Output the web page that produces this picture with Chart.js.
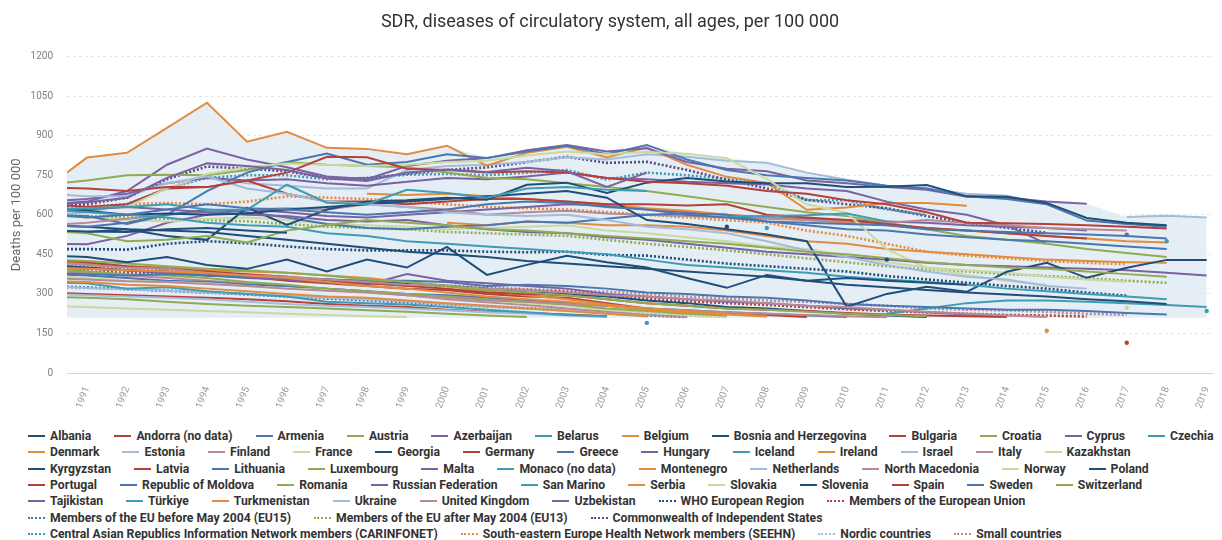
<!DOCTYPE html>
<html>
<head>
<meta charset="utf-8">
<script src="https://cdn.jsdelivr.net/npm/chart.js@4.4.1/dist/chart.umd.min.js"></script>
<style>
  body { margin: 0; background: #fff; }
  #wrap { position: relative; width: 1222px; height: 540px; overflow: hidden; }
  #box { position: absolute; left: 0; top: 0; width: 1222px; height: 425px; }
  #legend { position: absolute; left: 28px; top: 428px; width: 1194px;
            font: bold 12.2px Roboto, sans-serif; color: #333; }
  .row { display: flex; height: 16.3px; align-items: center; white-space: nowrap; }
  .item { display: flex; align-items: center; margin-right: 23px; }
  .sw { width: 17px; height: 0; border-top: 2px solid; margin-right: 5px; }
  .sw.dot { border-top-style: dotted; }
</style>
</head>
<body>
<div id="wrap">
  <div id="box"><canvas id="chart"></canvas></div>
  <div id="legend"></div>
</div>
<script>
// years on the x axis
const years = [1990, 1991, 1992, 1993, 1994, 1995, 1996, 1997, 1998, 1999,
  2000, 2001, 2002, 2003, 2004, 2005, 2006, 2007, 2008, 2009,
  2010, 2011, 2012, 2013, 2014, 2015, 2016, 2017, 2018, 2019];
const yTicks = [0, 150, 300, 450, 600, 750, 900, 1050, 1200];
const bandFloor = 210;

// SDR per 100 000 (null = no data)
const albania = [445, 440, 420, 440, 410, 395, 430, 385, 430, 400, 478, 372, 410, 445, 420, 400, 360, 323, 372, 350, 360, 350, 342, 335, null, null, null, null, null, null];
const andorra = [null, null, null, null, null, null, null, null, null, null, null, null, null, null, null, null, null, null, null, null, null, null, null, null, null, null, null, null, null, null];
const armenia = [600, 590, 600, 620, 640, 625, 620, 610, 600, 610, 620, 640, 650, 645, 630, 620, 600, 590, 575, 570, 565, 560, 545, 540, 535, 530, 525, 520, 510, null];
const austria = [430, 425, 415, 405, 395, 390, 380, 370, 355, 345, 330, 315, 305, 295, 280, 265, 255, 245, 240, 232, 225, 220, 215, null, null, null, null, null, null, null];
const azerbaijan = [635, 648, 665, 740, 795, 785, 770, 738, 728, 760, 772, 762, 778, 765, 706, 760, null, null, null, null, null, null, null, null, null, null, null, null, null, null];
const belarus = [620, 625, 630, 640, 620, 619, 714, 646, 640, 695, 683, 665, 700, 705, 695, 690, null, 593, 595, 598, 605, 575, null, null, null, null, null, null, 500, null];
const belgium = [350, 345, 335, 330, 320, 310, 300, 290, 285, 275, 265, 255, 245, 235, 225, 215, null, null, null, null, null, null, null, null, null, 160, null, null, null, null];
const bosnia = [540, 537, 535, 545, 550, 540, 532, null, null, null, null, null, null, null, null, null, null, 555, null, null, null, 430, null, null, null, null, null, null, null, null];
const bulgaria = [703, 700, 690, 705, 705, 730, 760, 820, 818, 775, 770, 760, 765, 760, 740, 725, 720, 710, 690, 680, 655, 640, 610, 570, 568, 565, 560, 555, 548, null];
const croatia = [540, 530, 500, 505, 520, 495, 540, 560, 580, 570, 560, 545, 540, 530, 520, 510, 500, 490, 475, 460, 450, 435, 420, 410, 400, 395, 385, 375, 365, null];
const cyprus = [null, null, null, null, null, null, null, null, null, null, null, null, null, null, null, null, null, null, null, null, null, null, null, null, null, null, null, 525, null, null];
const czechia = [620, 610, 600, 590, 570, 560, 555, 530, 520, 500, 490, 480, 470, 460, 450, 430, 410, 400, 390, 380, 365, 355, 345, 335, 320, 310, 300, 290, 280, null];
const denmark = [400, 395, 390, 385, 378, 370, 360, 345, 330, 320, 305, 290, 280, 270, 255, 240, 230, 222, 214, null, null, null, null, null, null, null, null, null, null, null];
const estonia = [680, 670, 670, 720, 745, 700, 680, 650, 640, 630, 610, 600, 595, 600, 580, 555, 545, 530, 500, 465, 440, 410, 385, 365, 355, 330, 320, null, null, null];
const finland = [420, 410, 400, 395, 380, 370, 365, 355, 345, 335, 330, 320, 315, 305, 295, 290, 280, 275, 265, 255, 250, 240, 232, 225, 218, 212, null, null, null, null];
const france = [255, 250, 245, 240, 235, 230, 225, 220, 215, 212, null, null, null, null, null, null, null, null, null, null, null, null, null, null, null, null, null, null, null, null];
const georgia = [620, 615, 600, 605, 600, 605, 620, 630, 640, 650, 660, 670, 680, 690, 665, 580, 565, 545, 525, 500, 251, 300, 327, 308, 384, 418, 361, 399, 429, 429];
const germany = [430, 420, 405, 395, 385, 375, 365, 350, 340, 330, 320, 305, 300, 295, 280, 265, 255, 245, 240, 235, 228, 222, 218, 215, 212, null, null, null, null, null];
const greece = [380, 375, 370, 375, 370, 365, 360, 355, 350, 350, 345, 330, 335, 330, 320, 305, 300, 290, 285, 275, 262, 255, 250, 245, 240, 240, 235, 228, 222, null];
const hungary = [615, 620, 630, 620, 610, 600, 595, 580, 575, 580, 560, 545, 535, 530, 515, 505, 490, 475, 460, 450, 440, 430, 418, 410, 405, 400, 395, 390, 380, 370];
const iceland = [345, 340, 320, 325, 310, 300, 290, 270, 265, 260, 250, 240, 230, 220, 215, null, null, null, null, null, null, null, null, null, null, null, null, null, null, null];
const ireland = [420, 415, 405, 400, 390, 385, 380, 370, 360, 345, 330, 310, 295, 280, 260, 245, 235, 225, 215, null, null, null, null, null, null, null, null, null, null, null];
const israel = [300, 295, 290, 285, 280, 270, 262, 255, 250, 245, 238, 230, 225, 218, 212, null, null, null, null, null, null, null, null, null, null, null, null, null, null, null];
const italy = [360, 355, 348, 345, 338, 330, 320, 312, 305, 295, 285, 275, 270, 262, 255, 245, 238, 230, 225, 220, 215, 211, null, null, null, null, null, null, null, null];
const kazakhstan = [610, 625, 630, 700, 755, 780, 795, 790, 785, 790, 800, 805, 825, 840, 830, 838, 832, 815, 735, 640, 607, 470, 398, 372, 350, 335, null, 247, null, null];
const kyrgyzstan = [540, 535, 545, 520, 505, 627, 562, 620, 650, 655, 665, 657, 714, 722, 683, 722, 740, 726, 720, 720, 705, 706, 713, 670, 668, 645, 588, 570, 560, null];
const latvia = [640, 630, 640, 700, 705, 730, 680, 650, 650, 640, 650, 660, 660, 650, 640, 640, 635, 640, 600, 590, 580, 565, 550, 540, 530, 520, 510, null, null, null];
const lithuania = [560, 555, 570, 600, 620, 610, 590, 565, 550, 545, 555, 560, 575, 570, 585, 600, 605, 600, 575, 560, 545, 540, 525, 515, 505, 500, 490, 480, 470, null];
const luxembourg = [395, 385, 375, 370, 360, 345, 335, 320, 310, 300, 290, 280, 270, 260, 245, 235, 225, 218, null, null, null, null, null, null, null, null, null, null, null, null];
const malta = [400, 395, 390, 380, 370, 360, 355, 345, 335, 375, 350, 340, 330, 320, 300, 290, 280, 270, 265, 255, 245, 240, 230, 222, 215, null, null, null, null, null];
const monaco = [null, null, null, null, null, null, null, null, null, null, null, null, null, null, null, null, null, null, null, null, null, null, null, null, null, null, null, null, null, null];
const montenegro = [null, null, null, null, null, null, null, null, null, null, 570, 560, 575, 570, 560, 560, 555, 540, 520, 500, 490, 470, 460, 450, 440, 430, 425, 420, 418, null];
const netherlands = [330, 322, 318, 312, 305, 300, 292, 285, 280, 272, 262, 252, 245, 238, 225, 215, null, null, null, null, null, null, null, null, null, null, null, null, null, null];
const northMacedonia = [560, 570, 585, 600, 610, 620, 625, 620, 640, 630, 620, 600, 610, 615, 605, 600, 595, 590, 585, 580, 575, 570, 580, 570, 560, 550, 545, 540, null, null];
const norway = [370, 360, 350, 345, 340, 330, 320, 315, 305, 295, 285, 275, 265, 255, 240, 230, 220, 212, null, null, null, null, null, null, null, null, null, null, null, null];
const poland = [560, 555, 545, 540, 535, 520, 505, 490, 475, 460, 450, 440, 425, 415, 405, 395, 385, 375, 365, 350, 335, 325, 315, 305, 298, 290, 280, 272, 262, null];
const portugal = [400, 395, 390, 385, 370, 365, 350, 340, 330, 320, 315, 300, 290, 285, 265, 245, 235, 225, 220, 212, null, null, null, null, null, null, null, null, null, null];
const moldova = [600, 595, 565, 600, 690, 760, 800, 832, 790, 800, 830, 815, 840, 862, 830, 865, 810, 770, 750, 740, 730, 710, 700, 670, 660, 640, 578, 565, 555, null];
const romania = [715, 730, 750, 752, 750, 770, 800, 790, 785, 780, 760, 740, 735, 720, 705, 690, 670, 650, 630, 610, 595, 570, 545, 520, 505, 490, 470, 455, 440, null];
const russia = [640, 650, 690, 790, 851, 810, 780, 745, 735, 785, 805, 815, 845, 865, 840, 852, 800, 775, 765, 730, 720, 705, 695, 668, 665, 650, 642, null, null, null];
const sanMarino = [null, null, null, null, null, null, null, null, null, null, null, null, null, null, null, 190, null, null, null, null, null, null, null, null, null, null, null, null, null, 235];
const serbia = [null, null, null, null, null, null, null, null, 680, 675, 680, 670, 660, 650, 640, 625, 615, 600, 590, 580, 570, 560, 550, 540, 530, 520, 510, 500, 495, null];
const slovakia = [600, 590, 580, 575, 585, 590, 580, 565, 560, 555, 545, 550, 555, 560, 540, 530, 515, 500, 480, 470, 445, 420, 400, 390, 380, 365, 355, 345, null, null];
const slovenia = [410, 400, 390, 380, 375, 370, 360, 355, 345, 340, 330, 320, 305, 300, 290, 275, 265, 250, 245, 235, 225, 218, 212, null, null, null, null, null, null, null];
const spain = [305, 300, 295, 290, 285, 280, 272, 262, 255, 250, 240, 232, 228, 222, 215, null, null, null, null, null, null, null, null, null, null, null, null, 115, null, null];
const sweden = [375, 370, 360, 350, 345, 335, 330, 320, 310, 300, 295, 285, 275, 265, 255, 245, 238, 230, 225, 218, 212, null, null, null, null, null, null, null, null, null];
const switzerland = [290, 285, 280, 270, 262, 255, 250, 245, 238, 232, 225, 218, 212, null, null, null, null, null, null, null, null, null, null, null, null, null, null, null, null, null];
const tajikistan = [650, 660, 680, 720, 740, 730, 735, 720, 710, 725, 740, 735, 745, 760, 740, 735, 725, 720, 715, 700, 690, 650, 620, 600, 560, 490, null, null, null, null];
const turkiye = [null, null, null, null, null, null, null, null, null, null, null, null, null, null, null, null, null, null, 550, null, null, 225, 245, 265, 275, 275, 270, 265, 258, 250];
const turkmenistan = [703, 817, 835, 930, 1025, 877, 915, 854, 850, 830, 862, 786, 835, 858, 817, 855, 790, 744, 721, 619, 628, 645, 645, 634, null, null, null, null, null, null];
const ukraine = [600, 610, 640, 700, 745, 720, 710, 700, 700, 770, 785, 790, 800, 818, 810, 830, 820, 805, 797, 760, 733, 710, 700, 680, 672, 640, null, 592, 596, 590];
const unitedKingdom = [390, 380, 370, 360, 350, 340, 330, 320, 310, 295, 280, 268, 258, 245, 232, 220, 212, null, null, null, null, null, null, null, null, null, null, null, null, null];
const uzbekistan = [490, 488, 520, 570, 600, 620, 610, 595, 590, 600, 610, 620, 630, 640, 635, 620, 610, 600, 590, 585, 580, 575, 570, 560, 555, 550, 540, null, null, null];

// country groups (drawn dotted)
const whoEurope = [470, 470, 468, 490, 500, 492, 480, 470, 465, 465, 465, 460, 458, 460, 448, 445, 430, 415, 405, 395, 385, 368, 355, 342, 330, 320, 305, 293, null, null];
const eu = [390, 385, 380, 378, 372, 365, 360, 350, 343, 337, 330, 320, 315, 308, 295, 282, 272, 265, 258, 250, 242, 235, 230, 225, 220, 218, 214, null, null, null];
const eu15 = [330, 325, 318, 312, 305, 298, 290, 282, 275, 268, 260, 252, 245, 238, 228, 218, 212, null, null, null, null, null, null, null, null, null, null, null, null, null];
const eu13 = [600, 595, 590, 585, 580, 575, 565, 555, 550, 545, 535, 530, 525, 520, 505, 490, 478, 465, 450, 435, 420, 405, 392, 385, 375, 368, 360, 350, 342, null];
const cis = [630, 640, 665, 735, 783, 775, 765, 740, 738, 756, 770, 780, 800, 820, 797, 801, 770, 733, 700, 657, 640, 625, 595, 570, 550, 532, null, null, null, null];
const carinfonet = [615, 625, 640, 700, 740, 750, 750, 735, 740, 752, 755, 750, 760, 770, 733, 760, 750, 735, 720, 655, 655, 620, 600, null, null, null, null, null, null, null];
const seehn = [630, 632, 640, 645, 640, 650, 670, 665, 660, 650, 640, 630, 625, 620, 610, 600, 590, 580, 570, 540, 520, 490, 460, 445, 435, 425, 418, 412, null, null];
const nordic = [325, 322, 318, 312, 305, 300, 292, 285, 278, 270, 262, 255, 248, 240, 232, 225, 218, 212, null, null, null, null, null, null, null, null, null, null, null, null];
const smallCountries = [410, 405, 395, 390, 380, 372, 365, 355, 348, 340, 332, 325, 318, 312, 308, 300, 290, 283, 275, 270, 262, 255, 245, 240, 238, 232, 225, 220, null, null];

const names = ["Albania", "Andorra (no data)", "Armenia", "Austria", "Azerbaijan", "Belarus", "Belgium",
  "Bosnia and Herzegovina", "Bulgaria", "Croatia", "Cyprus", "Czechia", "Denmark", "Estonia", "Finland",
  "France", "Georgia", "Germany", "Greece", "Hungary", "Iceland", "Ireland", "Israel", "Italy", "Kazakhstan",
  "Kyrgyzstan", "Latvia", "Lithuania", "Luxembourg", "Malta", "Monaco (no data)", "Montenegro", "Netherlands",
  "North Macedonia", "Norway", "Poland", "Portugal", "Republic of Moldova", "Romania", "Russian Federation",
  "San Marino", "Serbia", "Slovakia", "Slovenia", "Spain", "Sweden", "Switzerland", "Tajikistan", "Türkiye",
  "Turkmenistan", "Ukraine", "United Kingdom", "Uzbekistan",
  "WHO European Region", "Members of the European Union", "Members of the EU before May 2004 (EU15)",
  "Members of the EU after May 2004 (EU13)", "Commonwealth of Independent States",
  "Central Asian Republics Information Network members (CARINFONET)",
  "South-eastern Europe Health Network members (SEEHN)", "Nordic countries", "Small countries"];
const values = [albania, andorra, armenia, austria, azerbaijan, belarus, belgium, bosnia, bulgaria, croatia,
  cyprus, czechia, denmark, estonia, finland, france, georgia, germany, greece, hungary, iceland, ireland,
  israel, italy, kazakhstan, kyrgyzstan, latvia, lithuania, luxembourg, malta, monaco, montenegro, netherlands,
  northMacedonia, norway, poland, portugal, moldova, romania, russia, sanMarino, serbia, slovakia, slovenia,
  spain, sweden, switzerland, tajikistan, turkiye, turkmenistan, ukraine, unitedKingdom, uzbekistan,
  whoEurope, eu, eu15, eu13, cis, carinfonet, seehn, nordic, smallCountries];
const firstGroup = 53; // index of "WHO European Region", groups are dotted

const C = {
  navy: "#1f4e79", red: "#b5403a", blue: "#4b77b0", green: "#8fac52", purple: "#7b62a3",
  teal: "#3e9cb4", orange: "#e38b3e", lblue: "#a3bcd9", mauve: "#b68a96", lgreen: "#c9d99f"
};
const colours = [C.navy, C.red, C.blue, C.green, C.purple, C.teal, C.orange, C.navy, C.red, C.green,
  C.purple, C.teal, C.orange, C.lblue, C.mauve, C.lgreen, C.navy, C.red, C.blue, C.purple, C.teal, C.orange,
  C.lblue, C.mauve, C.lgreen, C.navy, C.red, C.blue, C.green, C.purple, C.teal, C.orange, C.lblue,
  C.mauve, C.lgreen, C.navy, C.red, C.blue, C.green, C.purple, C.teal, C.orange, C.lgreen, C.navy,
  C.red, C.blue, C.green, C.purple, C.teal, C.orange, C.lblue, C.mauve, C.purple,
  C.navy, C.red, C.blue, C.green, "#5a4a86", C.teal, C.orange, C.lblue, C.mauve];

// rows of the legend start at these entries
const legendRowStarts = ["Denmark", "Kyrgyzstan", "Portugal", "Tajikistan",
  "Members of the EU before May 2004 (EU15)",
  "Central Asian Republics Information Network members (CARINFONET)"];

// a dot only where a value stands alone
function loneDot(ctx) {
  const d = ctx.dataset.data, i = ctx.dataIndex;
  return d[i] != null && d[i - 1] == null && d[i + 1] == null ? 2.2 : 0;
}

const datasets = names.map((name, k) => ({
  label: name,
  data: values[k],
  borderColor: colours[k],
  backgroundColor: colours[k],
  borderWidth: k >= firstGroup ? 2.6 : 2,
  borderDash: k >= firstGroup ? [2, 2] : [],
  pointRadius: loneDot,
  pointBorderWidth: 0,
  pointHoverRadius: 0,
  tension: 0,
  fill: false
}));

// shaded range: top of all series down to the floor
const bandTop = years.map((y, i) => Math.max(...values.map(v => v[i] == null ? -Infinity : v[i])));
datasets.push({
  label: "range",
  data: bandTop,
  borderWidth: 0,
  pointRadius: 0,
  backgroundColor: "rgba(222, 232, 242, 0.75)",
  fill: { value: bandFloor },
  order: 1
});

const htmlLegend = {
  id: "htmlLegend",
  afterUpdate(chart) {
    const box = document.getElementById("legend");
    box.innerHTML = "";
    let row = null;
    chart.data.datasets.forEach((ds, k) => {
      if (ds.label === "range") return;
      if (!row || legendRowStarts.includes(ds.label)) {
        row = document.createElement("div");
        row.className = "row";
        box.appendChild(row);
      }
      const item = document.createElement("span");
      item.className = "item";
      const sw = document.createElement("span");
      sw.className = k >= firstGroup ? "sw dot" : "sw";
      sw.style.borderTopColor = ds.borderColor;
      item.appendChild(sw);
      item.appendChild(document.createTextNode(ds.label));
      row.appendChild(item);
    });
  }
};

new Chart(document.getElementById("chart"), {
  type: "line",
  data: { labels: years, datasets: datasets },
  plugins: [htmlLegend],
  options: {
    responsive: true,
    maintainAspectRatio: false,
    animation: false,
    layout: { padding: { left: 0, right: 2, top: 0, bottom: 0 } },
    plugins: {
      legend: { display: false },
      tooltip: { enabled: false },
      title: {
        display: true,
        text: "SDR, diseases of circulatory system, all ages, per 100 000",
        color: "#333",
        font: { family: "Roboto", size: 18, weight: "normal" },
        padding: { top: 12, bottom: 23 }
      }
    },
    scales: {
      x: {
        type: "linear",
        min: 1990.5,
        max: 2019.17,
        afterBuildTicks: s => { s.ticks = years.filter(y => y > 1990).map(y => ({ value: y })); },
        afterFit: s => { s.height = 52; },
        grid: { display: false },
        border: { display: false },
        ticks: {
          autoSkip: false,
          minRotation: 70,
          maxRotation: 70,
          padding: 4,
          color: "#999",
          font: { family: "Roboto", size: 10 },
          callback: v => String(v)
        }
      },
      y: {
        min: 0,
        max: 1200,
        afterBuildTicks: s => { s.ticks = yTicks.map(v => ({ value: v })); },
        afterFit: s => { s.width = 67; },
        grid: {
          drawTicks: false,
          color: c => c.tick && c.tick.value === 0 ? "#ccd6eb" : "#e6e6e6",
          lineWidth: 1
        },
        border: { display: false, dash: c => c.tick && c.tick.value === 0 ? [] : [3, 3] },
        ticks: {
          padding: 14,
          color: "#808080",
          font: { family: "Roboto", size: 10 },
          callback: v => String(v)
        },
        title: {
          display: true,
          text: "Deaths per 100 000",
          color: "#666",
          font: { family: "Roboto", size: 13 },
          padding: { top: 9, bottom: 0 }
        }
      }
    }
  }
});
</script>
</body>
</html>
